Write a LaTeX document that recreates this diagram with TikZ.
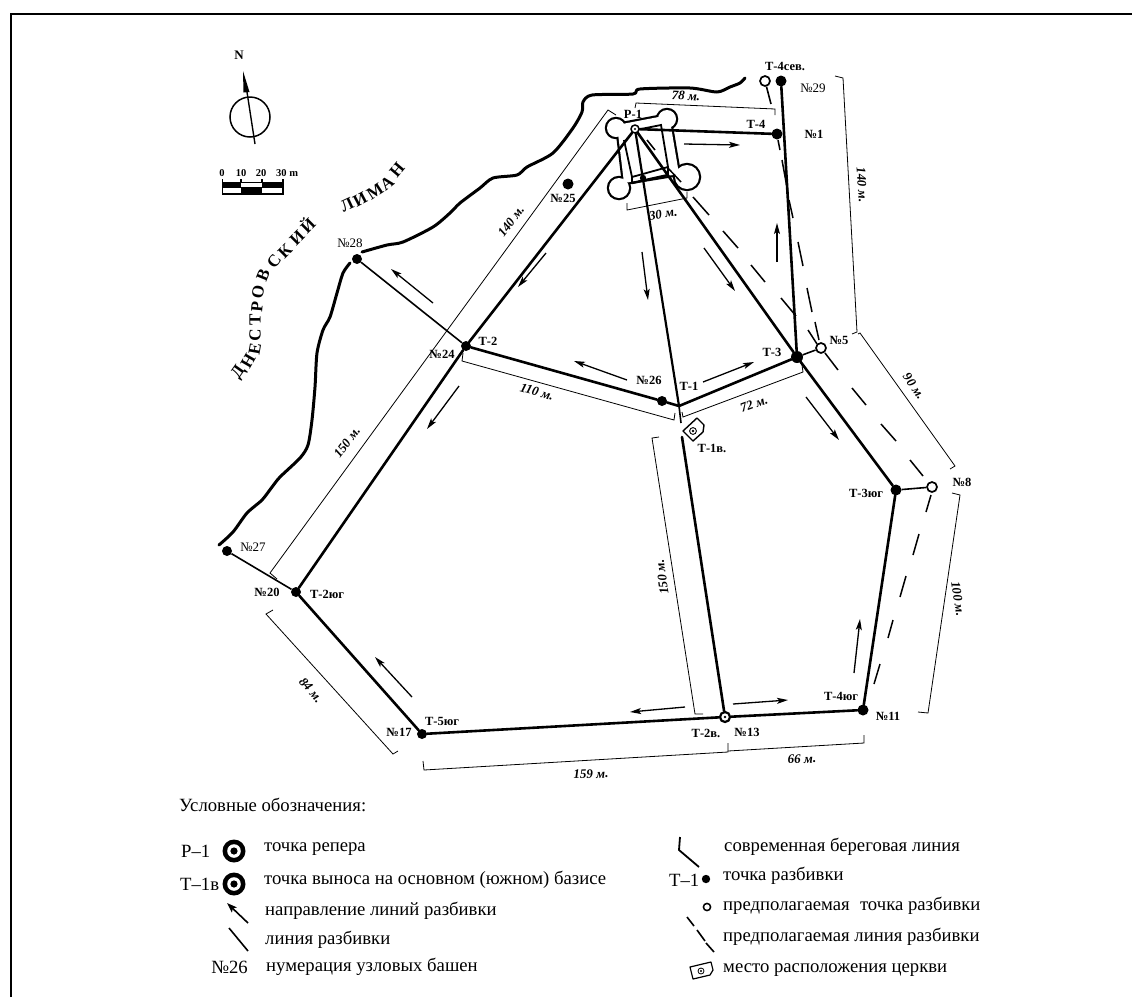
\documentclass[tikz,border=0pt]{standalone}
\usepackage{fontspec}
\setmainfont{Liberation Serif}
\usetikzlibrary{arrows.meta}
\tikzset{
 dotn/.style={circle,fill=black,inner sep=0pt,minimum size=#1},
 dotn/.default=11pt,
 openn/.style={circle,draw=black,line width=1.7pt,fill=white,inner sep=0pt,minimum size=10pt},
 ringn/.style={circle,draw=black,line width=2.2pt,fill=white,inner sep=0pt,minimum size=10pt},
 mainl/.style={line width=2.6pt,line cap=round},
 mediuml/.style={line width=1.6pt},
 dimn/.style={line width=0.8pt,line join=miter},
 dashl/.style={line width=1.5pt},
 dirn/.style={line width=1.3pt,-{Stealth[length=11pt,width=6pt,inset=2.5pt]}},
 coast/.style={line width=3pt,line join=round,line cap=round},
 lb/.style={font=\bfseries\fontsize{12.5}{13}\selectfont,inner sep=0pt},
 lr/.style={font=\fontsize{13}{14}\selectfont,inner sep=0pt},
 dm/.style={font=\bfseries\itshape\fontsize{13}{14}\selectfont,inner sep=0pt},
 riv/.style={font=\bfseries\fontsize{17}{18}\selectfont,inner sep=0pt},
 lg/.style={font=\fontsize{18.7}{20}\selectfont,inner sep=0pt,anchor=west},
 sc/.style={font=\bfseries\fontsize{10.5}{11}\selectfont,inner sep=0pt},
}
\newcommand{\bigbull}[2]{%
 \fill[black] (#1,#2) circle[radius=11.5pt];
 \fill[white] (#1,#2) circle[radius=6.8pt];
 \fill[black] (#1,#2) circle[radius=3.6pt];}
\begin{document}
\begin{tikzpicture}[x=1pt,y=-1pt]
\useasboundingbox (0,0) rectangle (1132,997);
\fill[white] (0,0) rectangle (1132,997);
% frame
\draw[line width=2.8pt] (11,997) -- (11,14) -- (1132,14);

% coast
\draw[coast] plot[smooth,tension=0.45] coordinates {(219,545)(233,532)(247,513)(262,500)(272,487)(280,477)(300,458)(308,445)(312,420)(315,387)(317,353)(323,330)(330,317)(337,293)(343,273)(350,263)};
\draw[coast] plot[smooth,tension=0.45] coordinates {(362,252)(387,245)(403,242)(433,227)(450,213)(460,203)(480,188)(493,178)(517,175)(527,167)(553,153)(573,128)(582,112)(583,102)(592,95)(633,94)(640,89)(690,88)(717,92)(730,87)(740,83)(745,78)};

% fortress
\begin{scope}[line width=4.4pt]
 \draw (616,128) circle[radius=9pt] (667,119) circle[radius=9pt] (687,177) circle[radius=12pt] (619,188) circle[radius=10pt];
 \draw (617,125) -- (669,115) -- (679,174) -- (624,183) -- cycle;
 \fill[white] (616,128) circle[radius=9pt] (667,119) circle[radius=9pt] (687,177) circle[radius=12pt] (619,188) circle[radius=10pt];
 \fill[white] (617,125) -- (669,115) -- (679,174) -- (624,183) -- cycle;
 \draw[line width=1.8pt] (624,140) -- (632,177) -- (668,167) -- (661,125) -- (636,130);
 \draw[line width=2.4pt] (632,183) -- (668,175);
 \draw[line width=1.8pt] (632,177) -- (632,183) (668,167) -- (668,175);
\end{scope}
\fill (643,178) circle[radius=3.2pt];

% points
\node[ringn,minimum size=8pt,line width=1.5pt] (P1) at (635,129) {};
\node[dotn=11pt] (T4) at (777,134) {};
\node[dotn=11pt] (T4s) at (781,81) {};
\node[openn] (T4so) at (765,81) {};
\node[dotn=12pt] (T3) at (797,357) {};
\node[openn] (N5) at (821,348) {};
\coordinate (T1) at (679,406);
\node[dotn=10pt] (N26) at (662,401) {};
\node[dotn=10pt] (T2) at (466,346) {};
\node[dotn=10pt] (N28) at (357,259) {};
\node[dotn=11pt] (N25) at (568,184) {};
\node[dotn=11pt] (T3s) at (896,490) {};
\node[openn] (N8) at (932,487) {};
\node[dotn=11pt] (T4y) at (863,710) {};
\node[ringn] (N13) at (725,717) {};
\node[dotn=10pt] (T5y) at (422,734) {};
\node[dotn=10pt] (T2y) at (296,592) {};
\node[dotn=10pt] (N27) at (227,551) {};
\coordinate (T1v) at (682,437);
\coordinate (T1e) at (681,423);
\coordinate (T4se) at (771,104);
\fill (P1) circle[radius=1.2pt];
\fill (N13) circle[radius=1.4pt];

% church
\draw[line width=1.4pt,line join=round] (683,431) -- (697,418) -- (704,425) -- (703,432) -- (693,441) -- cycle;
\draw[line width=0.9pt] (693,431) circle[radius=3.4pt];
\fill (693,431) circle[radius=1.3pt];

% main lines
\draw[mainl] (P1) -- (T4);
\draw[mainl] (T4s) -- (T3);
\draw[mainl] (P1) -- (T2);
\draw[mainl] (T2) -- (T2y);
\draw[mainl,line width=2.2pt] (P1) -- (T1);
\draw[mainl] (P1) -- (T3);
\draw[mainl] (T2) -- (N26);
\draw[mainl] (N26) -- (T1);
\draw[mainl] (T1) -- (T3);
\draw[mainl] (T3) -- (T3s);
\draw[mainl] (T3s) -- (T4y);
\draw[mainl] (T4y) -- (N13);
\draw[mainl] (N13) -- (T5y);
\draw[mainl] (T5y) -- (T2y);
\draw[mainl] (T1v) -- (N13);
\draw[mediuml] (T2) -- (N28);
\draw[mediuml] (T2y) -- (N27);
\draw[mediuml] (T3) -- (N5);
\draw[mediuml] (T3s) -- (N8);
\draw[mediuml] (T4so) -- (T4se);
\draw[mediuml] (T1) -- (T1e);

% dashed assumed lines
\draw[dashl] (647,140)--(655,150) (667,167)--(681,182) (693,197)--(709,215) (723,231)--(738,248) (751,265)--(765,282) (781,298)--(796,316) (808,330)--(817,344);
\draw[dashl] (778,140)--(780,150) (782,160)--(788,193) (789,200)--(793,218) (798,242)--(803,266) (807,288)--(812,312) (815,322)--(819,340);
\draw[dashl] (825,353)--(838,370) (852,388)--(866,405) (881,424)--(896,441) (910,460)--(923,476);
\draw[dashl] (931,495)--(926,512) (919,534)--(913,555) (906,576)--(900,597) (893,620)--(888,638) (880,664)--(874,684);

% direction arrows
\draw[dirn] (684,144) -- (740,145);
\draw[dirn] (777,262) -- (777,223);
\draw[dirn] (642,252) -- (648,300);
\draw[dirn] (704,248) -- (735,291);
\draw[dirn] (546,253) -- (518,287);
\draw[dirn] (433,303) -- (391,269);
\draw[dirn] (459,386) -- (427,429);
\draw[dirn] (627,380) -- (574,361);
\draw[dirn] (703,382) -- (754,362);
\draw[dirn] (806,397) -- (839,440);
\draw[dirn] (854,673) -- (860,619);
\draw[dirn] (733,704) -- (788,700);
\draw[dirn] (685,707) -- (630,712);
\draw[dirn] (412,697) -- (375,657);

% dimension lines
\draw[dimn] (635,108) -- (636,103) -- (775,109) -- (775,115);
\draw[dimn] (627,203) -- (627,210) -- (687,198) -- (687,192);
\draw[dimn] (835,76) -- (843,78) -- (857,332) -- (852,334);
\draw[dimn] (858,334) -- (860,333) -- (955,466) -- (950,469);
\draw[dimn] (952,493) -- (960,495) -- (928,713) -- (918,712);
\draw[dimn] (802,365) -- (803,372) -- (683,417) -- (682,412);
\draw[dimn] (463,353) -- (462,361) -- (674,420) -- (675,413);
\draw[dimn] (616,115) -- (608,110) -- (270,573) -- (277,579);
\draw[dimn] (273,610) -- (266,614) -- (393,754) -- (398,751);
\draw[dimn] (423,761) -- (424,770) -- (728,752) -- (728,743);
\draw[dimn] (728,751) -- (864,743) -- (864,735);
\draw[dimn] (659,437) -- (652,438) -- (695,714) -- (703,714);

% dimension labels
\node[dm,rotate=-3] (d78) at (686,96) {78 м.};
\node[dm,rotate=10] (d30) at (663,214) {30 м.};
\node[dm,rotate=-86] (d140r) at (862,185) {140 м.};
\node[dm,rotate=-55] (d90) at (914,386) {90 м.};
\node[dm,rotate=-81] (d100) at (958,599) {100 м.};
\node[dm,rotate=20] (d72) at (754,404) {72 м.};
\node[dm,rotate=-16] (d110) at (537,392) {110 м.};
\node[dm,rotate=53] (d140) at (511,221) {140 м.};
\node[dm,rotate=53] (d150) at (347,442) {150 м.};
\node[dm,rotate=-49] (d84) at (311,690) {84 м.};
\node[dm,rotate=2] (d159) at (591,774) {159 м.};
\node[dm,rotate=2] (d66) at (802,759) {66 м.};
\node[dm,rotate=98] (d150c) at (662,577) {150 м.};

% point labels
\node[lb] (lP1) at (633,114) {Р-1};
\node[lb] (lT4) at (756,124) {Т-4};
\node[lb] (lT4s) at (785,66) {Т-4сев.};
\node[lr] (l29) at (813,88) {№29};
\node[lb] (l1) at (814,134) {№1};
\node[lb] (l25) at (563,198) {№25};
\node[lb] (lT2) at (488,341) {Т-2};
\node[lb] (l24) at (442,354) {№24};
\node[lr] (l28) at (350,243) {№28};
\node[lr] (l27) at (253,547) {№27};
\node[lb] (l20) at (267,592) {№20};
\node[lb] (lT2y) at (327,594) {Т-2юг};
\node[lb] (l26) at (649,380) {№26};
\node[lb] (lT1) at (689,386) {Т-1};
\node[lb] (lT3) at (772,352) {Т-3};
\node[lb] (lT1v) at (712,448) {Т-1в.};
\node[lb] (l5) at (839,340) {№5};
\node[lb] (l8) at (962,482) {№8};
\node[lb] (lT3y) at (866,493) {Т-3юг};
\node[lb] (lT4y) at (841,696) {Т-4юг};
\node[lb] (l11) at (888,716) {№11};
\node[lb] (lT5y) at (442,721) {Т-5юг};
\node[lb] (l17) at (399,732) {№17};
\node[lb] (lT2v) at (706,733) {Т-2в.};
\node[lb] (l13) at (747,732) {№13};

% river name
\node[riv,rotate=55] (a1) at (239,373) {Д};
\node[riv,rotate=60] (a2) at (248,361) {Н};
\node[riv,rotate=80] (a3) at (255,349) {Е};
\node[riv,rotate=88] (a4) at (255,335) {С};
\node[riv,rotate=90] (a5) at (255,320) {Т};
\node[riv,rotate=85] (a6) at (257,307) {Р};
\node[riv,rotate=80] (a7) at (258,292) {О};
\node[riv,rotate=68] (a8) at (263,275) {В};
\node[riv,rotate=52] (a9) at (274,261) {С};
\node[riv,rotate=45] (a10) at (285,251) {К};
\node[riv,rotate=45] (a11) at (297,238) {И};
\node[riv,rotate=45] (a12) at (307,225) {Й};
\node[riv,rotate=25] (b1) at (347,205) {Л};
\node[riv,rotate=28] (b2) at (360,199) {И};
\node[riv,rotate=33] (b3) at (375,191) {М};
\node[riv,rotate=38] (b4) at (387,183) {А};
\node[riv,rotate=50] (b5) at (397,170) {Н};

% compass
\node[font=\bfseries\fontsize{13}{14}\selectfont,inner sep=0pt] (north) at (239,55) {N};
\draw[line width=1.5pt] (250,117) circle[radius=20pt];
\draw[line width=1.4pt] (247,92) -- (255,144);
\fill (243,71) -- (249.5,92) -- (243.5,92.5) -- cycle;

% scale bar
\node[sc] (s0) at (222,173) {0};
\node[sc] (s10) at (241,173) {10};
\node[sc] (s20) at (261,173) {20};
\node[sc,anchor=west] (s30) at (276,173) {30 m};
\fill (222,182) rectangle (283,188);
\fill[white] (241,183) rectangle (262,187);
\fill (241,188) rectangle (262,194);
\draw[line width=1.2pt] (222.5,179) -- (222.5,194) -- (283,194) -- (283,179) (241,179) -- (241,183) (262,179) -- (262,183);

% legend left
\node[lg] (t0) at (179,805) {Условные обозначения:};
\node[lg] (k1) at (181,851) {Р–1};
\bigbull{234}{851}
\node[lg] (t1) at (264,849) {точка репера};
\node[lg] (k2) at (180,884) {Т–1в};
\bigbull{234}{884}
\node[lg] (t2) at (264,880) {точка выноса на основном (южном) базисе};
\draw[line width=1.6pt,-{Stealth[length=10pt,width=7pt,inset=2pt]}] (248,923) -- (227,903);
\node[lg] (t3) at (265,911) {направление линий разбивки};
\draw[line width=1.6pt] (248,951) -- (229,928);
\node[lg] (t4) at (265,940) {линия разбивки};
\node[lg,anchor=east] (k5) at (248,967) {№26};
\node[lg] (t5) at (266,967) {нумерация узловых башен};

% legend right
\draw[line width=1.8pt,line join=round] (680,837) -- (679,850) -- (699,867);
\node[lg] (r1) at (724,847) {современная береговая линия};
\node[lg] (k6) at (669,880) {Т–1};
\fill (706,879) circle[radius=4.2pt];
\node[lg] (r2) at (723,876) {точка разбивки};
\draw[line width=1.5pt] (707,907) circle[radius=3.6pt];
\node[lg] (r3) at (723,906) {предполагаемая\hspace{0.3em} точка разбивки};
\draw[line width=1.6pt] (687,917)--(694,926) (697,930)--(705,941) (706,943)--(714,952);
\node[lg] (r4) at (723,937) {предполагаемая линия разбивки};
\draw[line width=1.2pt,line join=round] (690,967) -- (711,962) -- (713,970) -- (710,975) -- (693,979) -- cycle;
\draw[line width=0.8pt] (701,971) circle[radius=3pt];
\fill (701,971) circle[radius=1.2pt];
\node[lg] (r5) at (723,970) {место расположения церкви};
\end{tikzpicture}
\end{document}
